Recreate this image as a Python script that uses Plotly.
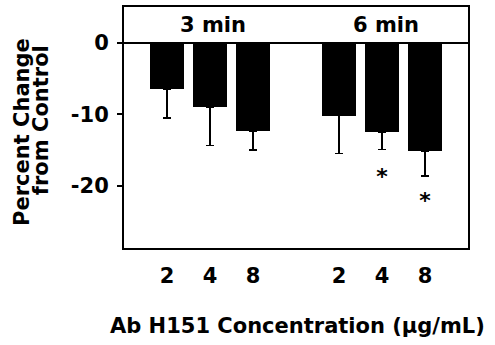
import plotly.graph_objects as go

# Data
positions = [0, 1, 2, 4, 5, 6]
dose_labels = ["2", "4", "8", "2", "4", "8"]
values = [-6.5, -9.0, -12.4, -10.2, -12.5, -15.2]
err_minus = [4.0, 5.4, 2.6, 5.3, 2.4, 3.4]
group_names = ["3 min", "6 min"]
group_x = [1.07, 5.1]
group_y = [2.55, 2.55]
star_x = [5, 6]
star_y = [-19.0, -22.3]
y_ticks = [0, -10, -20]
y_tick_labels = ["0", "-10", "-20"]

FONT = "DejaVu Sans"

fig = go.Figure()
fig.add_trace(go.Bar(
    x=positions, y=values, width=0.81,
    marker=dict(color="black", line=dict(width=0)),
    error_y=dict(type="data", symmetric=False, array=[0] * len(values),
                 arrayminus=err_minus, color="black", thickness=1.5, width=4),
    showlegend=False, hoverinfo="skip",
))
fig.add_trace(go.Scatter(
    x=star_x, y=star_y, mode="text", text=["*"] * len(star_x),
    textfont=dict(family=FONT, size=22, color="black", weight="bold"),
    textposition="middle center", showlegend=False, hoverinfo="skip",
))

for name, gx, gy in zip(group_names, group_x, group_y):
    fig.add_annotation(x=gx, y=gy, xref="x", yref="y", text=name, showarrow=False,
                       font=dict(family=FONT, size=21, color="black", weight="bold"),
                       xanchor="center", yanchor="middle")

fig.add_annotation(x=0.503, y=-0.324, xref="paper", yref="paper",
                   text="Ab H151 Concentration (μg/mL)", showarrow=False,
                   font=dict(family=FONT, size=21, color="black", weight="bold"),
                   xanchor="center", yanchor="middle")
fig.add_annotation(x=-0.297, y=0.481, xref="paper", yref="paper",
                   text="Percent Change", showarrow=False, textangle=-90,
                   font=dict(family=FONT, size=21, color="black", weight="bold"),
                   xanchor="center", yanchor="middle")
fig.add_annotation(x=-0.241, y=0.531, xref="paper", yref="paper",
                   text="from Control", showarrow=False, textangle=-90,
                   font=dict(family=FONT, size=21, color="black", weight="bold"),
                   xanchor="center", yanchor="middle")

fig.update_layout(
    width=495, height=345,
    margin=dict(l=124, r=27, t=7, b=97, autoexpand=False),
    paper_bgcolor="white", plot_bgcolor="white",
    bargap=0,
)
fig.update_xaxes(
    range=[-1, 7], tickmode="array", tickvals=positions, ticktext=dose_labels,
    ticks="", showgrid=False, zeroline=False,
    showline=True, linecolor="black", linewidth=2, mirror=True,
    tickfont=dict(family=FONT, size=21, color="black", weight="bold"),
    ticklabelstandoff=8,
)
fig.update_yaxes(
    range=[-28.7, 5], tickmode="array", tickvals=y_ticks, ticktext=y_tick_labels,
    ticks="outside", ticklen=5, tickwidth=2, tickcolor="black",
    showgrid=False, zeroline=True, zerolinecolor="black", zerolinewidth=1.5,
    showline=True, linecolor="black", linewidth=2, mirror=True,
    tickfont=dict(family=FONT, size=21, color="black", weight="bold"),
    ticklabelstandoff=4,
)

fig.write_html("out.html", config={"displayModeBar": False},
               post_script="document.body.style.margin='0';document.body.style.overflow='hidden';")
